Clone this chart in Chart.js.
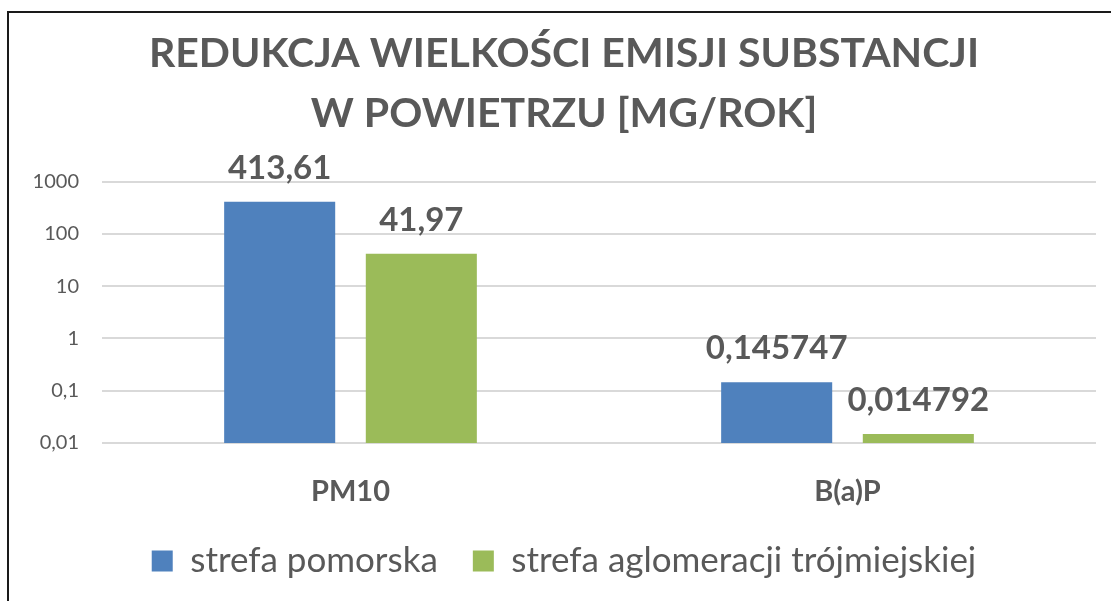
<!DOCTYPE html>
<html>
<head>
<meta charset="utf-8">
<script src="https://cdn.jsdelivr.net/npm/chart.js@4/dist/chart.umd.min.js"></script>
<style>
  html, body { margin: 0; padding: 0; background: #fff; }
  #wrap { position: relative; width: 1111px; height: 601px; overflow: hidden; }
  #frame { position: absolute; left: 7px; top: 11px; width: 1200px; height: 700px;
           border-left: 2px solid #1a1a1a; border-top: 2px solid #1a1a1a; box-sizing: border-box; }
  #chart { position: absolute; left: 0; top: 0; }
</style>
</head>
<body>
<div id="wrap">
  <div id="frame"></div>
  <canvas id="chart" width="1111" height="601"></canvas>
</div>
<script>
// dane
var categories = ['PM10', 'B(a)P'];
var seriesNames = ['strefa pomorska', 'strefa aglomeracji trójmiejskiej'];
var pomorska = [413.61, 0.145747];
var trojmiasto = [41.97, 0.014792];
var tickValues = [0.01, 0.1, 1, 10, 100, 1000];

var grey = '#595959';

function fmt(v) {
    return String(v).replace('.', ',');
}

// etykiety danych nad słupkami
var barLabels = {
    id: 'barLabels',
    afterDatasetsDraw: function (chart) {
        var ctx = chart.ctx;
        ctx.save();
        ctx.font = 'bold 33px Lato';
        ctx.fillStyle = grey;
        ctx.textAlign = 'center';
        ctx.textBaseline = 'alphabetic';
        chart.data.datasets.forEach(function (ds, i) {
            chart.getDatasetMeta(i).data.forEach(function (bar, j) {
                ctx.fillText(fmt(ds.data[j]), bar.x, bar.y - 23);
            });
        });
        ctx.restore();
    }
};

var ctx = document.getElementById('chart').getContext('2d');
var chart = new Chart(ctx, {
    type: 'bar',
    data: {
        labels: categories,
        datasets: [{
            label: seriesNames[0],
            data: pomorska,
            backgroundColor: '#4f81bd'
        }, {
            label: seriesNames[1],
            data: trojmiasto,
            backgroundColor: '#9bbb59'
        }]
    },
    options: {
        responsive: false,
        animation: false,
        categoryPercentage: 0.57,
        barPercentage: 0.784,
        layout: { padding: { left: 32, right: 15, top: 0, bottom: 12.5 } },
        scales: {
            x: {
                grid: { display: false, drawTicks: false },
                border: { display: false },
                ticks: { color: grey, font: { family: 'Lato', size: 29, weight: 'bold' }, padding: 31 },
                afterFit: function (s) { s.height = 65.5; }
            },
            y: {
                type: 'logarithmic',
                min: 0.01,
                max: 1000,
                grid: { color: '#d9d9d9', lineWidth: 2, drawTicks: false },
                border: { display: false },
                ticks: {
                    color: grey,
                    font: { family: 'Lato', size: 20 },
                    padding: 23,
                    callback: function (v) { return fmt(v); }
                },
                afterBuildTicks: function (s) {
                    s.ticks = tickValues.map(function (v) { return { value: v }; });
                },
                afterFit: function (s) { s.width = 70; }
            }
        },
        plugins: {
            title: {
                display: true,
                text: ['REDUKCJA WIELKOŚCI EMISJI SUBSTANCJI', 'W POWIETRZU [MG/ROK]'],
                color: grey,
                font: { family: 'Lato', size: 41, weight: 'bold', lineHeight: 1.46 },
                padding: { top: 24, bottom: 38 }
            },
            legend: {
                position: 'bottom',
                labels: {
                    color: grey,
                    font: { family: 'Lato', size: 35 },
                    boxWidth: 21,
                    boxHeight: 21,
                    padding: 35
                }
            },
            tooltip: { enabled: false }
        }
    },
    plugins: [barLabels]
});
</script>
</body>
</html>
